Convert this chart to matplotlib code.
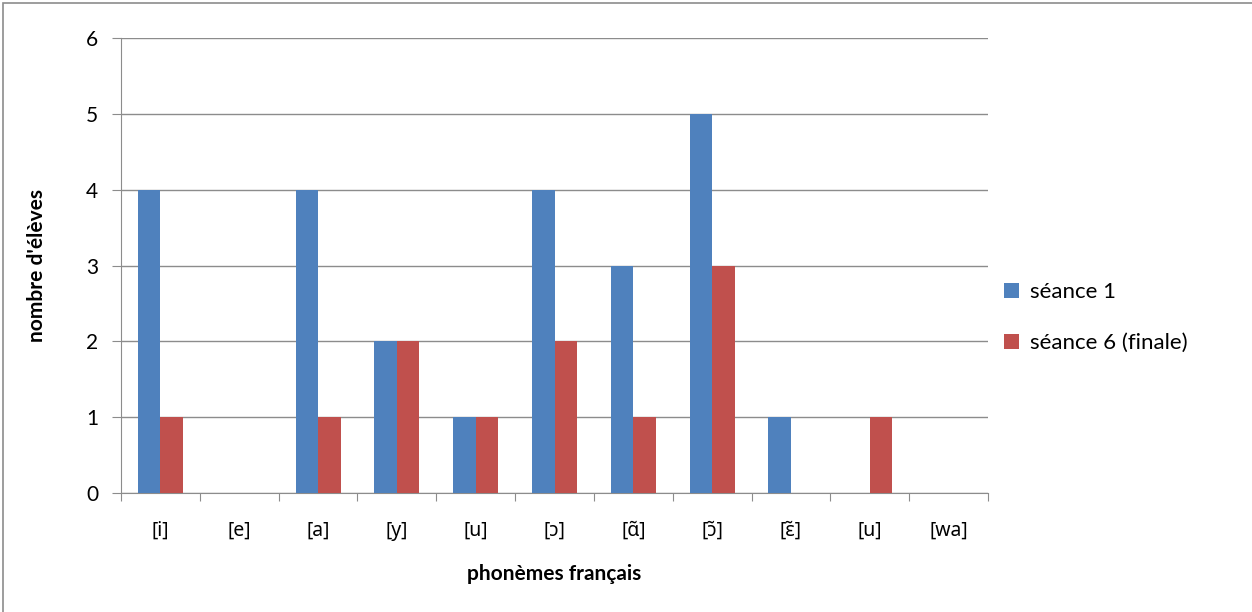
import matplotlib.pyplot as plt
import numpy as np
from matplotlib.patches import Rectangle

plt.rcParams['font.family'] = ['Lato', 'Noto Sans', 'DejaVu Sans']

# données
phonemes = ["[i]", "[e]", "[a]", "[y]", "[u]", "[ɔ]", "[ɑ̃]", "[ɔ̃]", "[ɛ̃]", "[u]", "[wa]"]
seance_1 = [4, 0, 4, 2, 1, 4, 3, 5, 1, 0, 0]
seance_6 = [1, 0, 1, 2, 1, 2, 1, 3, 0, 1, 0]

fig = plt.figure(figsize=(12.52, 6.12), dpi=100)
ax = fig.add_axes([121 / 1252, 1 - 493 / 612, 867 / 1252, 455 / 612])

x = np.arange(len(phonemes))
w = 0.285
ax.bar(x - w / 2, seance_1, w, color="#4F81BD", label="séance 1", zorder=3)
ax.bar(x + w / 2, seance_6, w, color="#C0504D", label="séance 6 (finale)", zorder=3)

ax.set_xlim(-0.5, len(phonemes) - 0.5)
ax.set_ylim(0, 6)
ax.set_yticks(range(7))
ax.yaxis.grid(True, color="#8C8C8C", linewidth=1)
ax.set_axisbelow(True)

# ticks aux limites des catégories
ax.set_xticks(np.arange(-0.5, len(phonemes)))
ax.set_xticklabels([])
ax.set_xticks(x, minor=True)
ax.set_xticklabels(phonemes, minor=True, fontsize=14, family=["Noto Sans", "DejaVu Sans"])
ax.tick_params(axis="x", which="minor", length=0, pad=20)
ax.tick_params(axis="x", which="major", length=6, color="#8C8C8C")
ax.tick_params(axis="y", length=6.5, color="#8C8C8C", labelsize=15, pad=10)

for s in ["top", "right"]:
    ax.spines[s].set_visible(False)
for s in ["left", "bottom"]:
    ax.spines[s].set_color("#8C8C8C")

ax.set_xlabel("phonèmes français", fontsize=15, fontweight="bold")
ax.xaxis.set_label_coords(0.5, -0.155)
ax.set_ylabel("nombre d'élèves", fontsize=15, fontweight="bold")
ax.yaxis.set_label_coords(-0.085, 0.5)

fig.legend(loc="upper left", bbox_to_anchor=(0.786, 0.572), frameon=False,
           fontsize=16, handlelength=0.65, handleheight=0.65, handletextpad=0.5,
           labelspacing=1.4)

# cadre du graphique
fig.patches.append(Rectangle((3 / 1252, -0.05), 1.1, 1 - 3 / 612 + 0.05,
                             transform=fig.transFigure, fill=False,
                             edgecolor="#8C8C8C", linewidth=1.2))

fig.savefig("out.png", dpi=100)
